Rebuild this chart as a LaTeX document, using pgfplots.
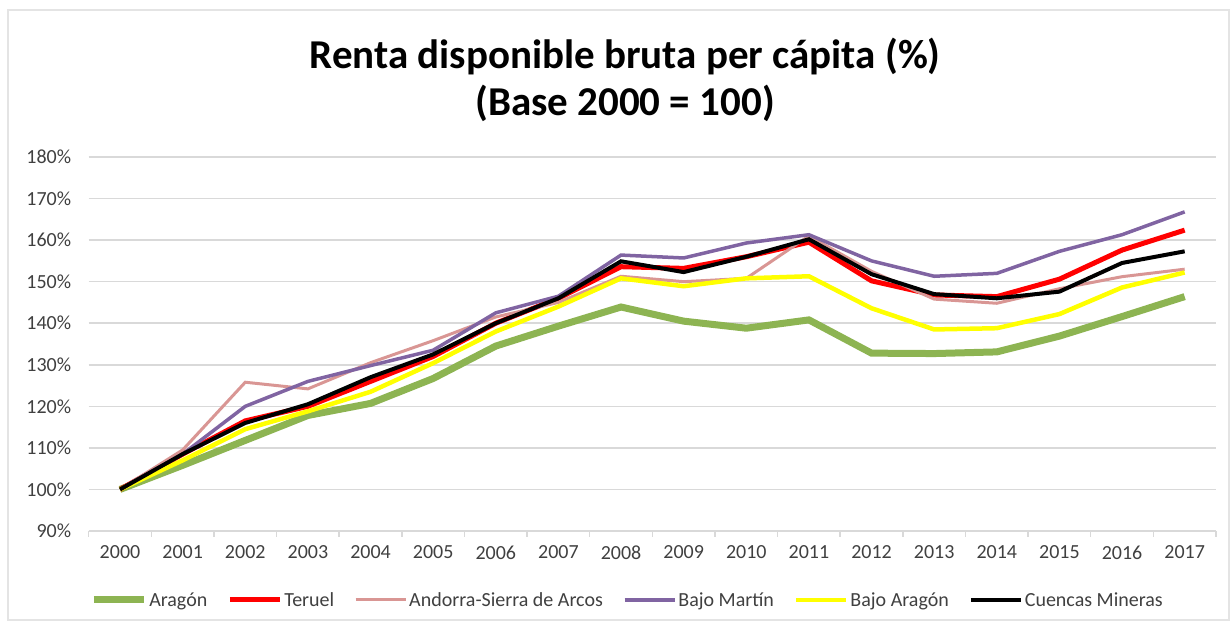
\documentclass[border=0pt]{standalone}
\usepackage{fontspec}
\setmainfont{Carlito}
\usepackage{pgfplots}
\pgfplotsset{compat=1.18}
\definecolor{cgreen}{RGB}{141,180,82}
\definecolor{cred}{RGB}{255,0,0}
\definecolor{cpink}{RGB}{217,150,148}
\definecolor{cpurple}{RGB}{128,100,162}
\definecolor{cyellow}{RGB}{255,255,0}
\definecolor{ctext}{RGB}{64,64,64}
\definecolor{cgrid}{RGB}{217,217,217}
\begin{document}
\begin{tikzpicture}[x=1pt,y=1pt]
\path[use as bounding box] (0,0) rectangle (1231,628);
\draw[cgrid!70, line width=1.5pt] (8,8) rectangle (1229,618);
\node[font=\fontsize{41}{48}\selectfont\bfseries] at (625,571) {Renta disponible bruta per cápita (\%)};
\node[font=\fontsize{41}{48}\selectfont\bfseries] at (625,525) {(Base 2000 = 100)};
\begin{axis}[
  at={(88.7pt,97pt)}, anchor=south west,
  scale only axis, width=1127.3pt, height=374pt,
  xmin=-0.5, xmax=17.5, ymin=90, ymax=180,
  xtick={0,...,17},
  xticklabels={2000,2001,2002,2003,2004,2005,2006,2007,2008,2009,2010,2011,2012,2013,2014,2015,2016,2017},
  minor xtick={-0.5,0.5,...,17.5},
  xtick pos=lower, ytick pos=left,
  ytick={90,100,...,180},
  yticklabel={\pgfmathprintnumber{\tick}\%},
  /pgf/number format/assume math mode=true,
  ymajorgrids, grid style={line width=1.5pt, cgrid},
  axis line style={draw=none},
  major tick length=0pt, minor tick length=6pt, tick align=outside,
  minor tick style={line width=1.5pt, cgrid},
  ticklabel style={font=\fontsize{20}{24}\selectfont, text=ctext},
  yticklabel style={xshift=-14pt},
  xticklabel style={yshift=-11pt},
  legend columns=6,
  legend style={draw=none, at={(0.478,-0.1845)}, anchor=center, font=\fontsize{20}{24}\selectfont, text=ctext,
    /tikz/every even column/.append style={column sep=18pt}},
  legend cell align=left,
  legend image code/.code={\draw[#1] (0pt,0pt) -- (50pt,0pt);},
]
\addplot[cgreen, line width=7pt] coordinates {(0,100) (1,105.8) (2,111.8) (3,117.8) (4,120.7) (5,126.7) (6,134.5) (7,139.3) (8,143.9) (9,140.5) (10,138.8) (11,140.8) (12,132.8) (13,132.7) (14,133.1) (15,136.9) (16,141.6) (17,146.4)};
\addlegendentry{Aragón}
\addplot[cred, line width=5pt] coordinates {(0,100) (1,108.5) (2,116.5) (3,120) (4,126) (5,132) (6,140) (7,146) (8,153.6) (9,153.2) (10,156) (11,159.5) (12,150.2) (13,146.8) (14,146.4) (15,150.6) (16,157.6) (17,162.4)};
\addlegendentry{Teruel}
\addplot[cpink, line width=3pt] coordinates {(0,100) (1,109.5) (2,125.8) (3,124.2) (4,130.5) (5,135.8) (6,141.5) (7,145) (8,151.3) (9,150) (10,150.8) (11,161) (12,152.5) (13,145.8) (14,144.8) (15,148.3) (16,151.2) (17,153)};
\addlegendentry{Andorra-Sierra de Arcos}
\addplot[cpurple, line width=3.5pt] coordinates {(0,100) (1,108.5) (2,120) (3,126) (4,129.8) (5,133.5) (6,142.5) (7,146.5) (8,156.4) (9,155.7) (10,159.3) (11,161.3) (12,155) (13,151.3) (14,152) (15,157.3) (16,161.3) (17,166.8)};
\addlegendentry{Bajo Martín}
\addplot[cyellow, line width=4.5pt] coordinates {(0,100) (1,107) (2,114.5) (3,118.8) (4,123.5) (5,130.4) (6,138) (7,144) (8,150.8) (9,148.9) (10,150.8) (11,151.3) (12,143.6) (13,138.5) (14,138.8) (15,142.2) (16,148.6) (17,152.2)};
\addlegendentry{Bajo Aragón}
\addplot[black, line width=4pt] coordinates {(0,100) (1,108.5) (2,116) (3,120.5) (4,127) (5,132.5) (6,140) (7,146) (8,154.9) (9,152.3) (10,156) (11,160.2) (12,151.8) (13,147) (14,146) (15,147.6) (16,154.5) (17,157.3)};
\addlegendentry{Cuencas Mineras}
\end{axis}
\end{tikzpicture}
\end{document}
